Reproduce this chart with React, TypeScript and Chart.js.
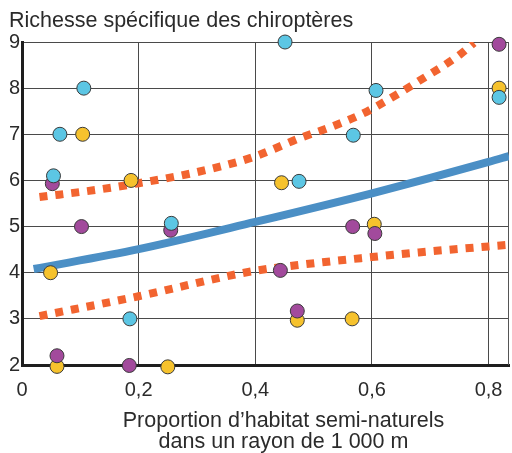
import { useEffect, useRef } from "react";
import { Chart, registerables } from "chart.js";

Chart.register(...registerables);

const yTitle = "Richesse spécifique des chiroptères";
const xTitleLines = ["Proportion d’habitat semi-naturels", "dans un rayon de 1 000 m"];

const xTickValues = [0, 0.2, 0.4, 0.6, 0.8];
const xTickLabels = ["0", "0,2", "0,4", "0,6", "0,8"];
const yTickValues = [2, 3, 4, 5, 6, 7, 8, 9];
const yTickLabels = ["2", "3", "4", "5", "6", "7", "8", "9"];

const cyanX = [0.451, 0.106, 0.065, 0.054, 0.256, 0.185, 0.607, 0.568, 0.475, 0.818];
const cyanY = [9.0, 8.0, 7.0, 6.1, 5.07, 3.0, 7.95, 6.98, 5.98, 7.8];

const yellowX = [0.104, 0.187, 0.049, 0.06, 0.25, 0.445, 0.604, 0.472, 0.566, 0.818];
const yellowY = [7.0, 6.0, 4.0, 1.97, 1.96, 5.95, 5.05, 2.97, 3.0, 8.0];

const purpleX = [0.052, 0.102, 0.255, 0.06, 0.184, 0.443, 0.472, 0.567, 0.605, 0.818];
const purpleY = [5.93, 5.0, 4.92, 2.2, 1.99, 4.05, 3.17, 5.0, 4.85, 8.95];

const fitX = [0.02, 0.2, 0.4, 0.6, 0.8, 0.835];
const fitY = [4.08, 4.51, 5.1, 5.72, 6.4, 6.53];

const upperX = [0.03, 0.13, 0.2, 0.3, 0.395, 0.477, 0.53, 0.583, 0.61, 0.68, 0.75, 0.775];
const upperY = [5.64, 5.8, 5.94, 6.18, 6.5, 6.92, 7.16, 7.44, 7.62, 8.15, 8.72, 8.98];

const lowerX = [0.03, 0.2, 0.39, 0.47, 0.6, 0.68, 0.8, 0.83];
const lowerY = [3.06, 3.49, 4.02, 4.16, 4.34, 4.44, 4.57, 4.6];

const zip = (xs: number[], ys: number[]) => xs.map((x, i) => ({ x, y: ys[i] }));

const FONT = '"Liberation Sans", Arial, sans-serif';
const TEXT = "#2b2b2b";

const textPlugin = {
  id: "extraTexts",
  beforeDatasetsDraw(chart: any) {
    const { ctx, chartArea } = chart;
    ctx.save();
    ctx.strokeStyle = "#555";
    ctx.lineWidth = 1;
    ctx.beginPath();
    ctx.moveTo(chartArea.right - 0.5, chartArea.top);
    ctx.lineTo(chartArea.right - 0.5, chartArea.bottom);
    ctx.stroke();
    ctx.restore();
  },
  afterDraw(chart: any) {
    const { ctx, chartArea } = chart;
    ctx.save();
    ctx.fillStyle = TEXT;
    ctx.font = `21.5px ${FONT}`;
    ctx.textBaseline = "alphabetic";
    ctx.textAlign = "left";
    ctx.fillText(yTitle, 9, chartArea.top - 15);
    ctx.textAlign = "center";
    const cx = (chartArea.left + chartArea.right) / 2 + 18;
    ctx.fillText(xTitleLines[0], cx, chartArea.bottom + 62);
    ctx.fillText(xTitleLines[1], cx, chartArea.bottom + 83);
    ctx.restore();
  },
};

export default function App() {
  const ref = useRef<HTMLCanvasElement | null>(null);

  useEffect(() => {
    document.body.style.margin = "0";
    const canvas = ref.current;
    if (!canvas) return;

    const pointDs = (label: string, xs: number[], ys: number[], color: string, order: number) => ({
      label,
      data: zip(xs, ys),
      backgroundColor: color,
      borderColor: "#3a3a3a",
      borderWidth: 1,
      pointRadius: 7,
      pointHoverRadius: 7,
      showLine: false,
      clip: false as any,
      order,
    });

    const lineDs = (label: string, xs: number[], ys: number[], color: string, dash: number[], order: number) => ({
      label,
      data: zip(xs, ys),
      borderColor: color,
      backgroundColor: color,
      borderWidth: 8,
      borderDash: dash,
      borderCapStyle: "butt" as const,
      pointRadius: 0,
      showLine: true,
      cubicInterpolationMode: "monotone" as const,
      fill: false,
      order,
    });

    const chart = new Chart(canvas, {
      type: "scatter",
      data: {
        datasets: [
          pointDs("cyan", cyanX, cyanY, "#5cc6e4", 0),
          pointDs("purple", purpleX, purpleY, "#a24a9c", 1),
          pointDs("yellow", yellowX, yellowY, "#f6c22d", 2),
          lineDs("fit", fitX, fitY, "#4b8fc5", [], 3),
          lineDs("upper", upperX, upperY, "#f26430", [8, 8], 4),
          lineDs("lower", lowerX, lowerY, "#f26430", [8, 8], 5),
        ] as any,
      },
      options: {
        animation: false,
        responsive: false,
        events: [],
        layout: { autoPadding: false, padding: { top: 42, left: 0, right: 3, bottom: 0 } },
        plugins: {
          legend: { display: false },
          tooltip: { enabled: false },
          title: { display: false },
        },
        scales: {
          x: {
            type: "linear",
            min: 0,
            max: 0.835,
            afterBuildTicks: (scale: any) => {
              scale.ticks = xTickValues.map((v) => ({ value: v }));
            },
            afterFit: (scale: any) => {
              scale.paddingLeft = 0;
              scale.paddingRight = 0;
              scale.height = 88;
            },
            ticks: {
              padding: 13,
              color: TEXT,
              font: { family: FONT, size: 20 },
              callback: (_v: any, i: number) => xTickLabels[i],
              maxRotation: 0,
              autoSkip: false,
            },
            grid: { color: "#4a4a4a", lineWidth: 1, drawTicks: false },
            border: { display: true, color: "#1e1e1e", width: 3 },
          },
          y: {
            type: "linear",
            min: 2,
            max: 9,
            afterBuildTicks: (scale: any) => {
              scale.ticks = yTickValues.map((v) => ({ value: v }));
            },
            afterFit: (scale: any) => {
              scale.width = 22;
            },
            ticks: {
              padding: 2,
              color: TEXT,
              font: { family: FONT, size: 20 },
              callback: (_v: any, i: number) => yTickLabels[i],
              autoSkip: false,
            },
            grid: { color: "#4a4a4a", lineWidth: 1, drawTicks: false },
            border: { display: true, color: "#1e1e1e", width: 3 },
          },
        },
      },
      plugins: [textPlugin],
    });

    return () => chart.destroy();
  }, []);

  return (
    <div style={{ width: 512, height: 453 }}>
      <canvas ref={ref} width={512} height={453} style={{ display: "block", width: 512, height: 453 }} />
    </div>
  );
}
